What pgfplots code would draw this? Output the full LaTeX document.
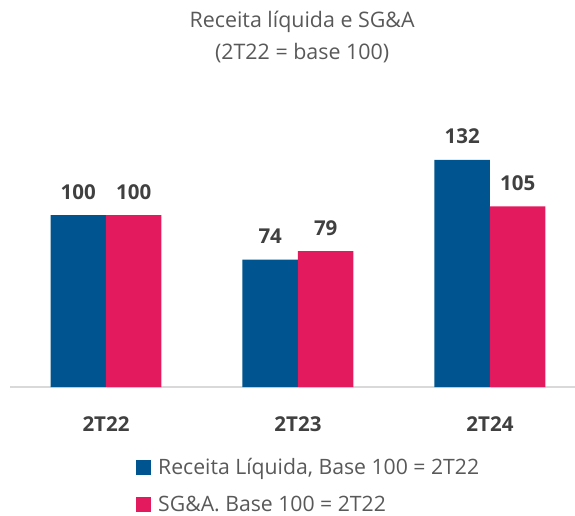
\documentclass[border=0pt]{standalone}
\usepackage{pgfplots}
\pgfplotsset{compat=1.18}
\usepackage{fontspec}
\setmainfont{Open Sans}
\definecolor{cblue}{HTML}{00548F}
\definecolor{cpink}{HTML}{E31B5E}
\definecolor{ctext}{HTML}{595959}
\definecolor{clabel}{HTML}{404040}
\definecolor{caxis}{HTML}{D9D9D9}
\begin{document}
\begin{tikzpicture}[x=1pt,y=1pt]
\useasboundingbox (0,0) rectangle (575,515);
\begin{axis}[
  at={(10pt,128pt)}, anchor=south west,
  scale only axis, width=565pt, height=287pt,
  xmin=-0.5, xmax=2.443, ymin=0, ymax=166.86,
  ybar=0pt, bar width=0.289,
  axis x line*=bottom, axis y line=none,
  x axis line style={draw=caxis, line width=1.6pt, -},
  xtick={0,1,2}, xticklabels={2T22,2T23,2T24},
  major tick length=0pt,
  xticklabel style={font=\fontsize{20.5}{24}\selectfont\bfseries, text=clabel, anchor=base, yshift=-44pt},
  /pgf/number format/assume math mode=true,
  nodes near coords,
  every node near coord/.append style={font=\fontsize{20.5}{24}\selectfont\bfseries, text=clabel, anchor=base, yshift=16pt},
  title={Receita líquida e SG\&A\\(2T22 = base 100)},
  title style={font=\fontsize{21.4}{32}\selectfont, text=ctext, align=center, inner sep=0pt, at={(axis description cs:0.517,1)}, anchor=north, yshift=83pt},
  legend style={at={(axis description cs:0.223,-0.2404)}, anchor=north west, draw=none, fill=none,
    font=\fontsize{21.2}{24}\selectfont, text=ctext, row sep=16pt, inner sep=0pt},
  legend cell align=left,
  legend image code/.code={\fill[#1,draw=none] (0pt,-7.5pt) rectangle (14.5pt,7pt); \path (20pt,0pt);},
]
\addplot[fill=cblue, draw=none] coordinates {(0,100) (1,74) (2,132)};
\addplot[fill=cpink, draw=none] coordinates {(0,100) (1,79) (2,105)};
\legend{{Receita Líquida, Base 100 = 2T22}, {SG\&A. Base 100 = 2T22}}
\end{axis}
\end{tikzpicture}
\end{document}
